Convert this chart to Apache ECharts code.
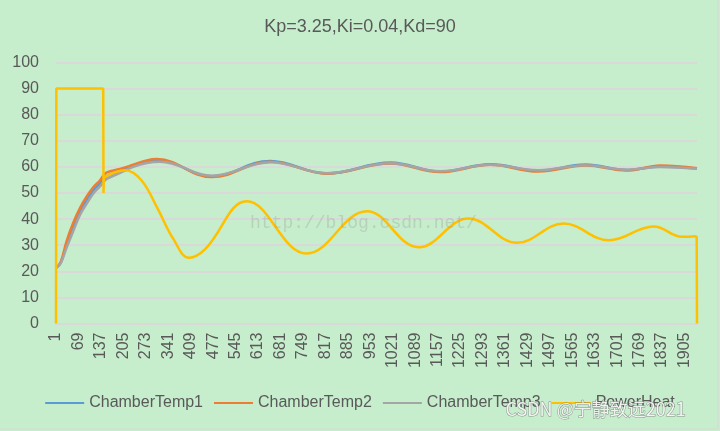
<!DOCTYPE html>
<html>
<head>
<meta charset="utf-8">
<style>
html, body { margin: 0; padding: 0; background: #c6edcc; }
#main { width: 720px; height: 431px; }
</style>
<script src="https://cdn.jsdelivr.net/npm/echarts@6/dist/echarts.min.js"></script>
</head>
<body>
<div id="main"></div>
<script>
// x = sample number - 1, y = value
const temp1 = [[0, 21.3], [14, 23.2], [32, 30.2], [52, 37.0], [73, 43.0], [93, 47.3], [113, 51.0], [133, 53.7], [143, 55.3], [154, 56.6], [194, 58.5], [234, 60.4], [275, 62.0], [310, 62.5], [472, 56.4], [649, 62.3], [821, 57.5], [1013, 61.7], [1164, 58.2], [1316, 61.0], [1461, 58.5], [1604, 60.9], [1730, 58.8], [1831, 60.2], [1942, 59.4]]
const temp2 = [[0, 21.3], [14, 23.5], [32, 31.5], [52, 38.5], [73, 44.3], [93, 48.7], [113, 52.2], [133, 54.8], [143, 56.6], [154, 57.9], [194, 59.2], [234, 60.8], [275, 62.5], [306, 63.0], [472, 56.1], [649, 62.0], [821, 57.4], [1013, 61.3], [1164, 58.0], [1316, 60.8], [1461, 58.2], [1604, 60.5], [1730, 58.6], [1831, 60.5], [1942, 59.5]]
const temp3 = [[0, 21.3], [14, 23.0], [32, 29.0], [52, 35.3], [73, 41.7], [93, 45.9], [113, 49.8], [133, 52.5], [143, 54.1], [154, 55.4], [194, 57.7], [234, 60.0], [275, 61.5], [315, 62.0], [472, 56.6], [649, 61.8], [821, 57.6], [1013, 61.4], [1164, 58.3], [1316, 60.8], [1461, 58.7], [1604, 60.6], [1730, 58.9], [1831, 60.0], [1942, 59.3]]
// heater on/off edges (drawn straight)
const powerEdges = [[0, 0], [1, 90], [143, 90], [144, 50], [145, 56], [1941, '-'], [1941, 33.4], [1942, 0]]
// heater output after switching to PID
const powerWave = [[145, 56.0], [209, 58.7], [258, 55.0], [306, 44.5], [355, 32.5], [403, 25.2], [452, 28.5], [578, 46.8], [760, 26.8], [942, 43.0], [1099, 29.2], [1250, 40.2], [1397, 30.9], [1538, 38.3], [1675, 31.9], [1811, 37.2], [1897, 33.2], [1941, 33.4]]
const names = ['ChamberTemp1', 'ChamberTemp2', 'ChamberTemp3', 'PowerHeat']
const colors = ['#5B9BD5', '#ED7D31', '#A5A5A5', '#FFC000']
const lastSample = 1942

const myChart = echarts.init(document.getElementById('main'))
const font = 'Liberation Sans, Arial, sans-serif'
const lineSeries = (name, data, color, smooth) => ({
  name: name,
  type: 'line',
  data: data,
  smooth: smooth,
  symbol: 'none',
  color: color,
  lineStyle: { width: 2.5, color: color },
  animation: false
})

myChart.setOption({
  backgroundColor: '#c6edcc',
  textStyle: { fontFamily: font },
  title: {
    text: 'Kp=3.25,Ki=0.04,Kd=90',
    left: 'center',
    top: 13,
    textStyle: { color: '#595959', fontSize: 18, fontWeight: 'normal', fontFamily: font }
  },
  legend: {
    data: names,
    left: 'center',
    top: 390,
    icon: 'rect',
    itemWidth: 39,
    itemHeight: 2,
    itemGap: 11,
    textStyle: { color: '#595959', fontSize: 16, fontFamily: font }
  },
  grid: { left: 56, right: 23, top: 62.5, bottom: 107.5 },
  xAxis: {
    type: 'value',
    min: 0,
    max: lastSample,
    interval: 68,
    axisLine: { show: true, lineStyle: { color: '#d9d9d9', width: 2 } },
    axisTick: { show: false },
    splitLine: { show: false },
    axisLabel: {
      rotate: 90,
      margin: 9,
      color: '#595959',
      fontSize: 16,
      showMaxLabel: false,
      formatter: v => String(v + 1)
    }
  },
  yAxis: {
    type: 'value',
    min: 0,
    max: 100,
    interval: 10,
    axisLine: { show: false },
    axisTick: { show: false },
    splitLine: { lineStyle: { color: '#d9d9d9', width: 2 } },
    axisLabel: { color: '#595959', fontSize: 16, margin: 17 }
  },
  series: [
    lineSeries(names[0], temp1, colors[0], 0.4),
    lineSeries(names[1], temp2, colors[1], 0.4),
    lineSeries(names[2], temp3, colors[2], 0.4),
    lineSeries(names[3], powerWave, colors[3], 0.4),
    lineSeries(names[3], powerEdges, colors[3], false)
  ],
  graphic: [
    {
      type: 'text',
      left: 250,
      top: 214,
      z: 100,
      style: { text: 'http://blog.csdn.net/', font: '18px Liberation Mono, monospace', fill: 'rgba(150,150,150,0.3)' }
    },
    {
      type: 'text',
      left: 505,
      top: 400,
      z: 100,
      style: { text: 'CSDN @宁静致远2021', font: '18px Noto Sans CJK SC, sans-serif', fill: 'rgba(255,255,255,0.85)', stroke: 'rgba(110,110,110,0.7)', lineWidth: 1 }
    },
    {
      type: 'rect',
      z: 100,
      shape: { x: -2, y: -2, width: 720, height: 431 },
      style: { fill: 'none', stroke: '#d9d9d9', lineWidth: 1 }
    }
  ]
})
</script>
</body>
</html>
